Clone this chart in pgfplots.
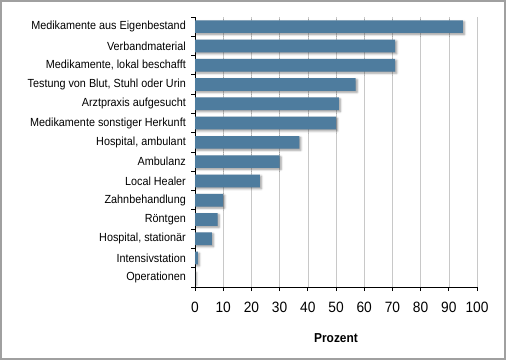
\documentclass[border=0pt]{standalone}
\usepackage{fontspec}
\setmainfont{Liberation Sans}
\newfontfamily\condfont{Liberation Sans}[FakeStretch=0.92]
\usepackage{pgfplots}
\pgfplotsset{compat=1.18}
\usetikzlibrary{shadows.blur}
\definecolor{barblue}{HTML}{4E7C9E}
\definecolor{gridgray}{HTML}{C8C8C8}
\definecolor{framegray}{HTML}{A0A0A0}
\begin{document}
\begin{tikzpicture}[x=1bp,y=1bp]
\useasboundingbox (0,0) rectangle (506,360);
\draw[framegray, line width=2bp] (1,1) rectangle (505,359);
\begin{axis}[
  at={(195bp,73bp)}, anchor=south west,
  width=282bp, height=270bp, scale only axis,
  xbar, bar width=12.7bp,
  xmin=0, xmax=100,
  ymin=-0.5, ymax=13.5, y dir=reverse,
  xtick={0,10,...,100},
  ytick={0,...,13},
  yticklabels={Medikamente aus Eigenbestand,Verbandmaterial,{Medikamente, lokal beschafft},{Testung von Blut, Stuhl oder Urin},Arztpraxis aufgesucht,Medikamente sonstiger Herkunft,{Hospital, ambulant},Ambulanz,Local Healer,Zahnbehandlung,Röntgen,{Hospital, stationär},Intensivstation,Operationen},
  minor ytick={-0.5,0.5,...,13.5},
  major tick length=4bp, minor tick length=4bp,
  tick align=outside,
  ytick style={draw=none},
  minor y tick style={draw=black, line width=0.8bp},
  x tick style={draw=black, line width=0.8bp},
  axis x line*=bottom, axis y line*=left,
  axis line style={-, line width=0.8bp, black},
  xmajorgrids, grid style={gridgray, line width=0.6bp},
  yticklabel style={font=\condfont\fontsize{11.8}{13}\selectfont, inner sep=1bp, xshift=-4bp},
  xticklabel style={font=\condfont\fontsize{15}{16}\selectfont, yshift=-8bp},
  xticklabel={\pgfmathprintnumber[assume math mode=true]{\tick}},
  xlabel={\bfseries Prozent},
  xlabel style={font=\condfont\fontsize{13}{14}\selectfont\bfseries, yshift=-14bp},
  clip=false,
]
\addplot[fill=barblue, draw=none, blur shadow={shadow xshift=1.5bp, shadow yshift=-1.5bp, shadow blur steps=6, shadow opacity=40}]
  coordinates {(95,0) (71,1) (71,2) (57,3) (51,4) (50,5) (37,6) (30,7) (23,8) (10,9) (8,10) (6,11) (1,12) (0,13)};
\end{axis}
\end{tikzpicture}
\end{document}
